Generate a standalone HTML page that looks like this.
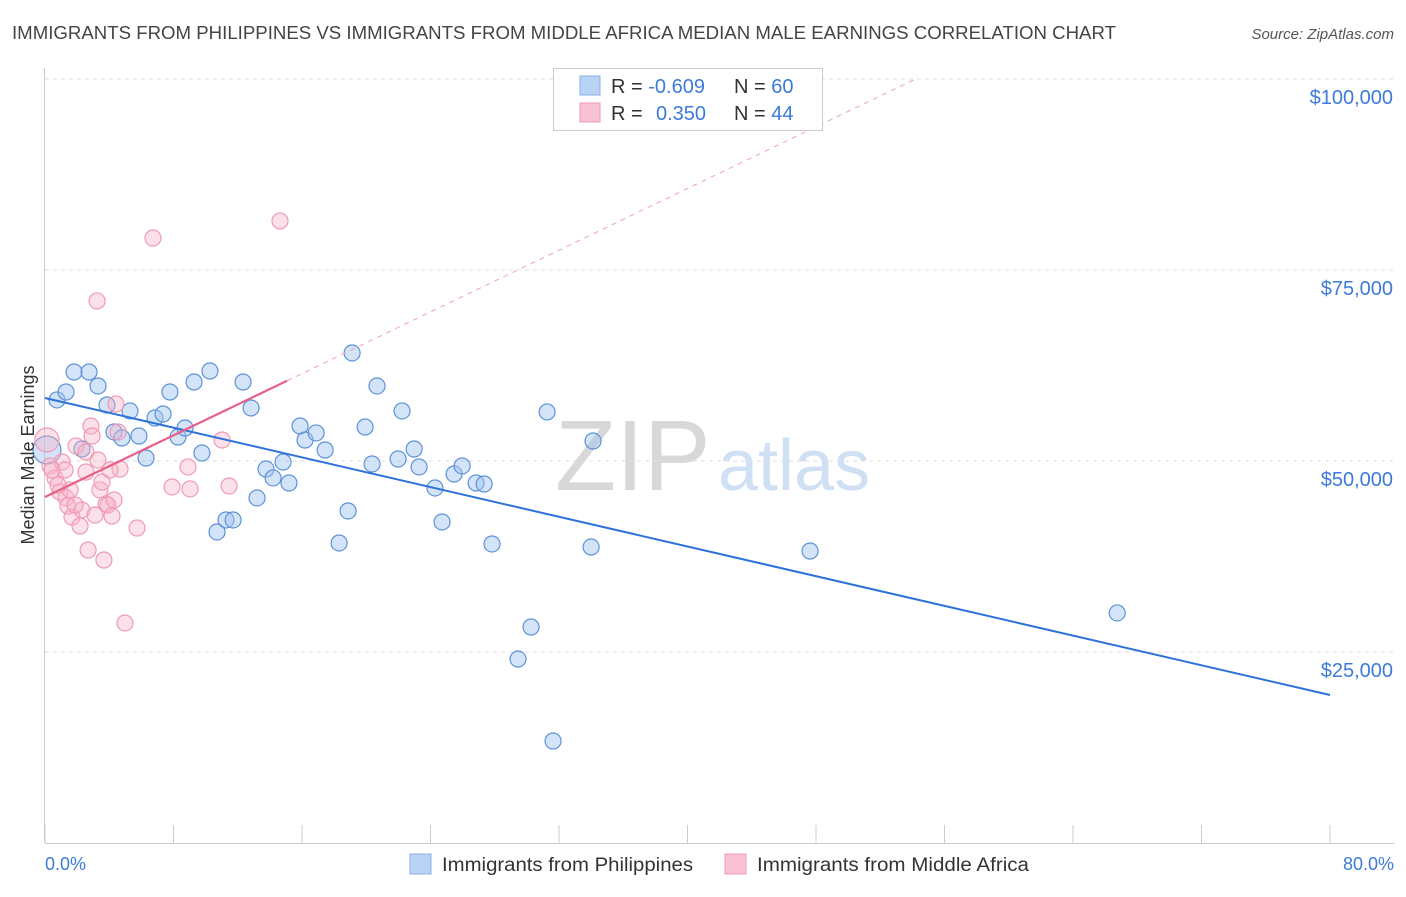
<!DOCTYPE html>
<html><head><meta charset="utf-8"><style>
body{margin:0;background:#fff;font-family:"Liberation Sans",sans-serif;}
svg text{font-family:"Liberation Sans",sans-serif;}
</style></head><body>
<svg id="chart" width="1406" height="892" xmlns="http://www.w3.org/2000/svg">
<text x="12" y="39" font-size="18" fill="#444" textLength="1104" lengthAdjust="spacingAndGlyphs">IMMIGRANTS FROM PHILIPPINES VS IMMIGRANTS FROM MIDDLE AFRICA MEDIAN MALE EARNINGS CORRELATION CHART</text>
<text x="1394" y="39" font-size="15" fill="#555" font-style="italic" text-anchor="end">Source: ZipAtlas.com</text>
<text x="555" y="490" font-size="100" fill="#d8d8d8" font-family="Liberation Serif">ZIP</text>
<text x="718" y="490" font-size="72" fill="#cfdff4">atlas</text>
<g id="grid"></g><g id="axes"></g><g id="pts"></g><g id="lines"></g>
<text transform="translate(34,455) rotate(-90)" font-size="18" fill="#333" text-anchor="middle">Median Male Earnings</text>
<text x="45" y="870" font-size="18" fill="#3d7bd9">0.0%</text>
<text x="1394" y="870" font-size="18" fill="#3d7bd9" text-anchor="end">80.0%</text>
<g>
<rect x="553.5" y="68.5" width="269" height="62" fill="#fff" stroke="#ccc"/>
<rect x="580" y="76" width="20" height="19" fill="#b9d3f5" stroke="#88b0e8"/>
<rect x="580" y="103" width="20" height="19" fill="#f9c3d3" stroke="#f09ab5"/>
<text x="611" y="93" font-size="20" fill="#333">R = <tspan fill="#3d7bd9">-0.609</tspan></text>
<text x="734" y="93" font-size="20" fill="#333">N = <tspan fill="#3d7bd9">60</tspan></text>
<text x="611" y="120" font-size="20" fill="#333">R = <tspan fill="#3d7bd9" x="656">0.350</tspan></text>
<text x="734" y="120" font-size="20" fill="#333">N = <tspan fill="#3d7bd9">44</tspan></text>
</g>
<g>
<rect x="410" y="854" width="21" height="20" fill="#b9d3f5" stroke="#88b0e8"/>
<text x="442" y="871" font-size="19" fill="#333" textLength="251" lengthAdjust="spacingAndGlyphs">Immigrants from Philippines</text>
<rect x="725" y="854" width="21" height="20" fill="#f9c3d3" stroke="#f09ab5"/>
<text x="757" y="871" font-size="19" fill="#333" textLength="272" lengthAdjust="spacingAndGlyphs">Immigrants from Middle Africa</text>
</g>
</svg>
<script>
const yTicks=[25000,50000,75000,100000];
const yTickLabels=["$25,000","$50,000","$75,000","$100,000"];
const blueX=[0.75,1.31,1.81,2.74,3.30,3.86,2.30,4.30,4.79,5.29,5.85,6.29,6.85,7.35,7.78,8.28,8.72,9.28,9.77,10.27,10.71,11.27,11.71,12.33,12.83,13.20,13.76,14.20,14.82,15.19,15.88,16.19,16.88,17.44,18.31,18.87,19.12,19.93,20.36,20.67,21.98,22.23,22.98,23.29,24.28,24.72,25.47,25.97,26.84,27.34,27.83,29.45,30.26,31.26,31.63,34.00,34.12,47.63,66.75,0.12];
const blueY=[57990,59030,61650,61650,59820,57330,51570,53800,53010,56550,53270,50390,55630,56150,59030,53140,54320,60340,51050,61780,40710,42280,42280,60340,56940,45160,48950,47780,49870,47120,54580,52750,53670,51440,39270,43460,64140,54450,49610,59820,50260,56550,51570,49220,46470,42020,48300,49350,47120,46990,39140,24080,28270,56420,13350,38740,52620,38220,30110,51440];
const pinkX=[0.12,0.31,0.62,0.93,1.06,1.31,1.43,1.68,1.93,2.18,2.30,2.55,2.68,2.86,2.93,3.24,3.30,3.42,3.55,3.67,3.80,3.92,4.17,4.30,4.42,4.55,4.67,4.98,5.73,6.72,7.91,8.90,9.03,11.02,11.46,14.63,2.55,1.56,1.25,0.44,0.81,1.87,3.11,4.05];
const pinkY=[52750,49350,47780,45940,49870,45160,44110,42670,51970,41490,43590,48560,38350,54580,53270,70950,50130,46210,47250,37040,44370,44240,42800,44900,57460,53800,48950,28800,41230,79190,46600,49220,46340,52750,46730,81420,51180,46210,48820,48820,46860,44240,42930,48820];
const blueTrend=[0,58250,80,19370];
const pinkTrend=[0,45290,15.07,60500,54.2,100000];
const X=p=>45+p*(1285/80), Y=v=>652-(v-25000)*191/25000;
const NS="http://www.w3.org/2000/svg";
function mk(t,a,parent){const e=document.createElementNS(NS,t);for(const k in a)e.setAttribute(k,a[k]);document.getElementById(parent).appendChild(e);return e;}
yTicks.forEach((v,i)=>{
 const l=mk('line',{x1:45,x2:1394,y1:Y(v),y2:Y(v),stroke:'#ddd','stroke-dasharray':'4,4'},'grid');
 
 
 const t=mk('text',{x:1393,y:Y(v)+25,'font-size':20,fill:'#3d7bd9','text-anchor':'end'},'grid');t.textContent=yTickLabels[i];
 
 
});
const ax=mk('line',{x1:45,x2:1394,y1:843.5,y2:843.5,stroke:'#ccc'},'axes');


const ay=mk('line',{x1:44.5,x2:44.5,y1:68,y2:843,stroke:'#ccc'},'axes');


for(let i=0;i<=10;i++){const t=mk('line',{x1:X(i*8),x2:X(i*8),y1:825,y2:843,stroke:'#ccc'},'axes');
 
 }
blueX.forEach((x,i)=>{const c=mk('circle',{cx:X(x),cy:Y(blueY[i]),r:i==59?14:8,fill:'rgba(160,196,240,0.45)',stroke:'#5d92d8','stroke-width':1.2},'pts');
 
 });
pinkX.forEach((x,i)=>{const c=mk('circle',{cx:X(x),cy:Y(pinkY[i]),r:i==0?12:8,fill:'rgba(248,180,200,0.4)',stroke:'#f09ab5','stroke-width':1.2},'pts');
 
 });
const bl=mk('line',{x1:X(blueTrend[0]),y1:Y(blueTrend[1]),x2:X(blueTrend[2]),y2:Y(blueTrend[3]),stroke:'#2d72d9','stroke-width':2},'lines');


const pd=mk('line',{x1:X(pinkTrend[2]),y1:Y(pinkTrend[3]),x2:X(pinkTrend[4]),y2:Y(pinkTrend[5]),stroke:'#f0a0b8','stroke-width':1,'stroke-dasharray':'5,5'},'lines');


const pl=mk('line',{x1:X(pinkTrend[0]),y1:Y(pinkTrend[1]),x2:X(pinkTrend[2]),y2:Y(pinkTrend[3]),stroke:'#e8608a','stroke-width':2.2},'lines');


</script>
</body></html>
